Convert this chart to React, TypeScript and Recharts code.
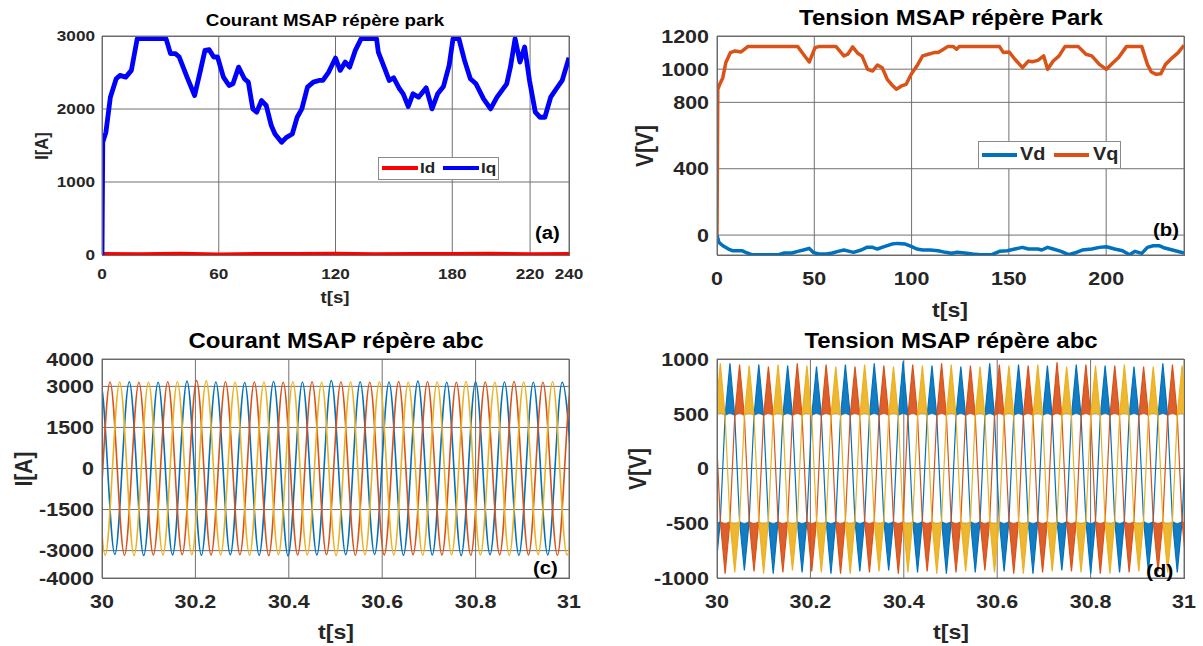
import React from "react";
import { ComposedChart, Line, Area, XAxis, YAxis, CartesianGrid } from "recharts";

const FONT = '"Liberation Sans", Arial, Helvetica, sans-serif';
const TICK_COLOR = "#262626";
const GRID = "#707070";
const SX = 1.13; // horizontal stretch of the exported figure's text

// ---------- Panel (a): Courant MSAP répère park ----------
const parkTicksA = [0, 60, 120, 180, 220, 240];
const currentTicksA = [0, 1000, 2000, 3000];
const iqPoints: number[][] = [
  [0, 0], [0.4, 1544], [2, 1680], [4.3, 2160], [7.3, 2414], [9.2, 2460], [12.2, 2437], [15.1, 2529],
  [18.1, 2964], [32.9, 2964], [35.2, 2758], [37.8, 2758], [39.7, 2712], [43.7, 2437], [47.6, 2185],
  [50.6, 2529], [52.9, 2803], [55.1, 2812], [57.4, 2712], [59.4, 2712], [62.4, 2437], [65.3, 2322],
  [67.3, 2345], [70.2, 2574], [73.2, 2414], [75.2, 2368], [77.5, 2002], [79.5, 1956], [82, 2116],
  [84.4, 2048], [87, 1773], [88.9, 1658], [92.3, 1544], [94.8, 1612], [97.8, 1658], [100.3, 1887],
  [102.7, 2002], [105.6, 2300], [108.6, 2368], [111.5, 2391], [113.5, 2391], [116.5, 2506], [120, 2698],
  [122.4, 2529], [125, 2643], [127.3, 2574], [130.2, 2803], [133.2, 2964], [141.1, 2964], [142, 2780],
  [145, 2574], [147.6, 2391], [149.9, 2428], [152.9, 2277], [154.8, 2208], [157.4, 2034], [159.8, 2208],
  [162.7, 2162], [166.6, 2290], [169.6, 2002], [172.5, 2208], [175.5, 2309], [178.4, 2597], [180.4, 2964],
  [183.4, 2964], [186.3, 2666], [189.3, 2414], [192.2, 2345], [196.1, 2139], [199.7, 2002], [203, 2162],
  [208, 2345], [209.9, 2574], [212.3, 2964], [214.8, 2643], [217.2, 2849], [219.7, 2391], [222.7, 1956],
  [225.1, 1887], [227.6, 1887], [230.6, 2162], [233.5, 2277], [236.5, 2391], [240, 2703],
];
const idPoints: number[][] = [
  [0, 0], [1, 15], [20, 10], [40, 18], [60, 8], [80, 15], [100, 12], [120, 18], [140, 9],
  [160, 14], [180, 12], [200, 17], [220, 10], [240, 14],
];

// ---------- Panel (b): Tension MSAP répère Park ----------
const parkTicksB = [0, 50, 100, 150, 200];
const voltTicksB = [0, 400, 800, 1000, 1200];
const vqPoints: number[][] = [
  [0, 0], [0.4, 879], [1.4, 909], [3, 949], [4.5, 1039], [6.9, 1100], [9.3, 1110], [12.4, 1104],
  [15.8, 1136], [41.5, 1136], [44.4, 1090], [47.4, 1043], [50.4, 1130], [52.3, 1136], [61.2, 1136],
  [65.2, 1080], [67.2, 1090], [69.7, 1134], [72.5, 1094], [74.5, 1080], [77.4, 999], [80, 989],
  [82.4, 1025], [84.9, 1009], [87.5, 939], [89.9, 905], [92.2, 879], [94.8, 899], [97.2, 909],
  [99.8, 969], [102.7, 1019], [105.7, 1080], [108.6, 1090], [111.6, 1100], [113.6, 1100], [115.6, 1114],
  [118.5, 1136], [121.5, 1136], [123.1, 1120], [124.4, 1136], [145.2, 1136], [147.2, 1100], [150.1, 1104],
  [153.1, 1060], [157, 1009], [160, 1049], [162, 1045], [164.9, 1053], [167.9, 1080], [169.9, 999],
  [172.8, 1049], [175.8, 1080], [178.8, 1136], [185.7, 1136], [189.6, 1090], [192.6, 1080], [196.5, 1029],
  [200.1, 999], [203.5, 1039], [206.4, 1070], [210.4, 1136], [218.3, 1136], [221.2, 1029], [223.2, 983],
  [225.8, 969], [228.1, 973], [230.5, 1029], [234.1, 1070], [237, 1100], [240, 1144],
];
const vdPoints: number[][] = [
  [0, 0], [1, -44], [3, -64], [5.9, -84], [7.9, -94], [12.8, -94], [14.8, -104], [17.8, -118],
  [31.6, -118], [34.6, -108], [38.5, -108], [41.5, -98], [44.4, -90], [47.4, -80], [49.4, -104],
  [52.3, -114], [56.3, -114], [59.3, -108], [62.2, -98], [65.2, -90], [68.1, -98], [70.1, -104],
  [74.1, -90], [77, -74], [80, -74], [82.4, -84], [85.9, -70], [89.9, -54], [92.8, -50], [96.8, -54],
  [99.8, -68], [102.7, -84], [105.7, -90], [109.6, -90], [113.6, -94], [117.5, -104], [120.5, -110],
  [123.5, -104], [127.4, -108], [131.4, -114], [135.3, -118], [141.2, -118], [145.2, -98], [149.1, -94],
  [153.1, -84], [157, -74], [160, -84], [164.9, -84], [166.9, -90], [169.9, -74], [172.8, -84],
  [176.8, -98], [180.7, -118], [183.7, -108], [187.7, -90], [192.6, -84], [196.5, -74], [200.1, -70],
  [204.4, -84], [208.4, -94], [212, -118], [214.8, -98], [218.3, -110], [221.2, -74], [224.2, -64],
  [227.2, -64], [230.1, -78], [234.1, -90], [240, -108],
];

// ---------- Panel (c): Courant MSAP répère abc (extrema: time, value) ----------
const abcTicks = [30, 30.2, 30.4, 30.6, 30.8, 31];
const currentTicksC = [-4000, -3000, -1500, 0, 1500, 3000, 4000];
const iaExtrema: number[][] = [
  [29.9657, -3150], [29.9966, 3160], [30.0275, -3140], [30.0584, 3170], [30.0893, -3180], [30.1202, 3150],
  [30.1511, -3160], [30.182, 3190], [30.2129, -3170], [30.2438, 3160], [30.2747, -3150], [30.3056, 3140],
  [30.3365, -3170], [30.3674, 3180], [30.3983, -3190], [30.4292, 3150], [30.4601, -3160], [30.491, 3210],
  [30.5219, -3150], [30.5528, 3170], [30.5837, -3140], [30.6146, 3160], [30.6455, -3170], [30.6764, 3190],
  [30.7073, -3160], [30.7382, 3150], [30.7691, -3180], [30.8, 3170], [30.8309, -3150], [30.8618, 3160],
  [30.8927, -3170], [30.9236, 3150], [30.9545, -3160], [30.9854, 3150], [31.0163, -3150],
];
const ibExtrema: number[][] = [
  [29.9554, 3150], [29.9863, -3150], [30.0172, 3160], [30.0481, -3170], [30.079, 3150], [30.1099, -3160],
  [30.1408, 3170], [30.1717, -3150], [30.2026, 3210], [30.2335, -3160], [30.2644, 3170], [30.2953, -3150],
  [30.3262, 3160], [30.3571, -3180], [30.388, 3150], [30.4189, -3160], [30.4498, 3170], [30.4807, -3150],
  [30.5116, 3160], [30.5425, -3170], [30.5734, 3150], [30.6043, -3160], [30.6352, 3180], [30.6661, -3150],
  [30.697, 3170], [30.7279, -3160], [30.7588, 3150], [30.7897, -3170], [30.8206, 3160], [30.8515, -3150],
  [30.8824, 3180], [30.9133, -3160], [30.9442, 3150], [30.9751, -3170], [31.006, 3160], [31.0369, -3150],
];
const icExtrema: number[][] = [
  [29.9451, -3150], [29.976, 3150], [30.0069, -3170], [30.0378, 3160], [30.0687, -3180], [30.0996, 3150],
  [30.1305, -3160], [30.1614, 3170], [30.1923, -3150], [30.2232, 3200], [30.2541, -3160], [30.285, 3150],
  [30.3159, -3170], [30.3468, 3160], [30.3777, -3150], [30.4086, 3170], [30.4395, -3160], [30.4704, 3150],
  [30.5013, -3180], [30.5322, 3160], [30.5631, -3150], [30.594, 3170], [30.6249, -3160], [30.6558, 3150],
  [30.6867, -3170], [30.7176, 3160], [30.7485, -3150], [30.7794, 3180], [30.8103, -3160], [30.8412, 3150],
  [30.8721, -3170], [30.903, 3160], [30.9339, -3150], [30.9648, 3170], [30.9957, -3160], [31.0266, 3150],
];

// ---------- Panel (d): Tension MSAP répère abc (extrema: time, value) ----------
const voltTicksD = [-1000, -500, 0, 500, 1000];
const vaExtrema: number[][] = [
  [29.9659, 930], [29.9968, -940], [30.0277, 960], [30.0586, -930], [30.0895, 950], [30.1204, -960],
  [30.1513, 940], [30.1822, -950], [30.2131, 930], [30.244, -960], [30.2749, 950], [30.3058, -940],
  [30.3367, 960], [30.3676, -930], [30.3985, 980], [30.4294, -950], [30.4603, 940], [30.4912, -960],
  [30.5221, 930], [30.553, -950], [30.5839, 960], [30.6148, -940], [30.6457, 950], [30.6766, -960],
  [30.7075, 940], [30.7384, -930], [30.7693, 950], [30.8002, -960], [30.8311, 940], [30.862, -950],
  [30.8929, 930], [30.9238, -940], [30.9547, 960], [30.9856, -950], [31.0165, 940],
];
const vbExtrema: number[][] = [
  [29.9556, -950], [29.9865, 940], [30.0174, -960], [30.0483, 950], [30.0792, -940], [30.1101, 930],
  [30.141, -950], [30.1719, 960], [30.2028, -940], [30.2337, 950], [30.2646, -960], [30.2955, 930],
  [30.3264, -950], [30.3573, 940], [30.3882, -960], [30.4191, 950], [30.45, -940], [30.4809, 960],
  [30.5118, -950], [30.5427, 940], [30.5736, -930], [30.6045, 950], [30.6354, -960], [30.6663, 940],
  [30.6972, -950], [30.7281, 970], [30.759, -940], [30.7899, 950], [30.8208, -960], [30.8517, 940],
  [30.8826, -950], [30.9135, 930], [30.9444, -940], [30.9753, 950], [31.0062, -960],
];
const vcExtrema: number[][] = [
  [29.9453, 950], [29.9762, -940], [30.0071, 960], [30.038, -950], [30.0689, 940], [30.0998, -960],
  [30.1307, 950], [30.1616, -930], [30.1925, 940], [30.2234, -950], [30.2543, 930], [30.2852, -960],
  [30.3161, 950], [30.347, -940], [30.3779, 930], [30.4088, -950], [30.4397, 940], [30.4706, -960],
  [30.5015, 950], [30.5324, -940], [30.5633, 930], [30.5942, -950], [30.6251, 940], [30.656, -960],
  [30.6869, 950], [30.7178, -940], [30.7487, 930], [30.7796, -950], [30.8105, 940], [30.8414, -960],
  [30.8723, 950], [30.9032, -940], [30.9341, 930], [30.965, -950], [30.9959, 940], [31.0268, -950],
];

// Shape of the PWM phase-voltage spike around each extremum
const SPIKE_HALF_WIDTH = 0.0103; // s
const SPIKE_EDGE = 480; // V where the spike band begins
const SPIKE_BASE = 505; // V lower edge of the noisy band at the spike centre

const toPts = (arr: number[][]) => arr.map(([t, v]) => ({ t, v }));
const spikeLine = (ext: number[][]) => {
  const out: { t: number; v: number }[] = [];
  ext.forEach(([t, a]) => {
    const s = Math.sign(a);
    out.push({ t: t - SPIKE_HALF_WIDTH, v: s * SPIKE_EDGE }, { t, v: a }, { t: t + SPIKE_HALF_WIDTH, v: s * SPIKE_EDGE });
  });
  return out;
};
const spikeBand = (ext: number[][]) => {
  const out: { t: number; r: number[] | null }[] = [];
  ext.forEach(([t, a]) => {
    const s = Math.sign(a);
    out.push(
      { t: t - SPIKE_HALF_WIDTH, r: [s * SPIKE_EDGE, s * SPIKE_EDGE] },
      { t, r: s > 0 ? [SPIKE_BASE, a] : [a, -SPIKE_BASE] },
      { t: t + SPIKE_HALF_WIDTH, r: [s * SPIKE_EDGE, s * SPIKE_EDGE] },
      { t: t + SPIKE_HALF_WIDTH + 0.0001, r: null }
    );
  });
  return out;
};

const BLUE = "#0072BD";
const ORANGE = "#D95319";
const YELLOW = "#EDB120";

type PlotRect = { x0: number; x1: number; y0: number; y1: number };

function makeTick(fontSize: number, vertical: "x" | "y") {
  return (p: any) => {
    const { x, y, payload, textAnchor } = p;
    return (
      <text
        transform={`translate(${x},${y}) scale(${SX},1)`}
        x={0}
        y={0}
        dy={vertical === "x" ? "0.71em" : "0.355em"}
        textAnchor={textAnchor}
        fill={TICK_COLOR}
        fontSize={fontSize}
        fontWeight={700}
        fontFamily={FONT}
      >
        {payload.value}
      </text>
    );
  };
}

function Panel(props: {
  left: number; top: number; width: number; height: number; plot: PlotRect;
  xDomain: number[]; xTicks: number[]; yDomain: number[]; yTicks: number[];
  tickSize: number; xTickMargin: number; yTickMargin: number; children: React.ReactNode;
}) {
  const { left, top, width, height, plot } = props;
  return (
    <>
      <div style={{ position: "absolute", left, top, width, height }}>
        <ComposedChart
          width={width}
          height={height}
          margin={{ top: plot.y0 - top, right: left + width - plot.x1, left: 0, bottom: 0 }}
        >
          <CartesianGrid stroke={GRID} strokeWidth={1} />
          <XAxis
            dataKey="t"
            type="number"
            domain={props.xDomain}
            ticks={props.xTicks}
            allowDataOverflow
            interval={0}
            height={top + height - plot.y1}
            tickSize={0}
            tickMargin={props.xTickMargin}
            axisLine={false}
            tickLine={false}
            tick={makeTick(props.tickSize, "x")}
          />
          <YAxis
            type="number"
            domain={props.yDomain}
            ticks={props.yTicks}
            allowDataOverflow
            interval={0}
            width={plot.x0 - left}
            tickSize={0}
            tickMargin={props.yTickMargin}
            axisLine={false}
            tickLine={false}
            tick={makeTick(props.tickSize, "y")}
          />
          {props.children}
        </ComposedChart>
      </div>
      <div
        style={{
          position: "absolute",
          left: plot.x0,
          top: plot.y0,
          width: plot.x1 - plot.x0 + 1,
          height: plot.y1 - plot.y0 + 1,
          border: "1px solid #6a6a6a",
          boxSizing: "border-box",
          pointerEvents: "none",
        }}
      />
    </>
  );
}

function Txt(props: { x: number; y: number; size: number; children: React.ReactNode; rotate?: boolean; color?: string; align?: "center" | "left" }) {
  const tx = props.align === "left" ? "0" : "-50%";
  const tf = props.rotate
    ? `translate(${tx}, -50%) rotate(-90deg) scale(1, ${SX})`
    : `translate(${tx}, -50%) scale(${SX}, 1)`;
  return (
    <div
      style={{
        position: "absolute",
        left: props.x,
        top: props.y,
        transform: tf,
        transformOrigin: props.align === "left" ? "left center" : "center center",
        fontSize: props.size,
        fontWeight: 700,
        fontFamily: FONT,
        color: props.color || "#000",
        whiteSpace: "nowrap",
        lineHeight: 1,
      }}
    >
      {props.children}
    </div>
  );
}

function Swatch(props: { x: number; y: number; w: number; color: string; thick: number }) {
  return (
    <div style={{ position: "absolute", left: props.x, top: props.y - props.thick / 2, width: props.w, height: props.thick, background: props.color }} />
  );
}

const PLOT_A = { x0: 102, x1: 569, y0: 36, y1: 255 };
const PLOT_B = { x0: 717, x1: 1184, y0: 36, y1: 255 };
const PLOT_C = { x0: 102, x1: 569, y0: 359, y1: 578 };
const PLOT_D = { x0: 717, x1: 1184, y0: 359, y1: 578 };

const T_SMALL = 15.2; // ticks, panel (a)
const T_BIG = 19; // ticks, panels (b)-(d)

export default function App() {
  const lineCommon = { dot: false, activeDot: false, isAnimationActive: false } as const;
  return (
    <div style={{ position: "absolute", left: 0, top: 0, width: 1203, height: 646, background: "#fff", overflow: "hidden", fontFamily: FONT }}>
      {/* (a) */}
      <Panel left={0} top={0} width={600} height={320} plot={PLOT_A} xDomain={[0, 240]} xTicks={parkTicksA}
        yDomain={[0, 3000]} yTicks={currentTicksA} tickSize={T_SMALL} xTickMargin={13} yTickMargin={7}>
        <Line data={toPts(idPoints)} dataKey="v" type="linear" stroke="#FF0000" strokeWidth={4} {...lineCommon} />
        <Line data={toPts(iqPoints)} dataKey="v" type="linear" stroke="#0000FF" strokeWidth={4.8} strokeLinejoin="round" {...lineCommon} />
      </Panel>
      <Txt x={325} y={21} size={16.6}>Courant MSAP répère park</Txt>
      <Txt x={335} y={298} size={16.6} color={TICK_COLOR}>t[s]</Txt>
      <Txt x={43} y={146} size={16.6} rotate color={TICK_COLOR}>I[A]</Txt>
      <div style={{ position: "absolute", left: 378, top: 157, width: 121, height: 23, background: "#fff", border: "1px solid #8a8a8a", boxSizing: "border-box" }} />
      <Swatch x={382} y={168} w={36} color="#FF0000" thick={4} />
      <Txt x={420} y={168} size={15.2} align="left" color={TICK_COLOR}>Id</Txt>
      <Swatch x={443} y={168} w={36} color="#0000FF" thick={4} />
      <Txt x={481} y={168} size={15.2} align="left" color={TICK_COLOR}>Iq</Txt>
      <Txt x={535} y={232.5} size={18} align="left">(a)</Txt>

      {/* (b) */}
      <Panel left={600} top={0} width={603} height={320} plot={PLOT_B} xDomain={[0, 240]} xTicks={parkTicksB}
        yDomain={[-120, 1200]} yTicks={voltTicksB} tickSize={T_BIG} xTickMargin={16} yTickMargin={8}>
        <Line data={toPts(vdPoints)} dataKey="v" type="linear" stroke={BLUE} strokeWidth={3.5} strokeLinejoin="round" {...lineCommon} />
        <Line data={toPts(vqPoints)} dataKey="v" type="linear" stroke={ORANGE} strokeWidth={3.5} strokeLinejoin="round" {...lineCommon} />
      </Panel>
      <Txt x={951} y={18} size={21.2}>Tension MSAP répère Park</Txt>
      <Txt x={950} y={310} size={20.5} color={TICK_COLOR}>t[s]</Txt>
      <Txt x={645} y={146} size={21} rotate color={TICK_COLOR}>V[V]</Txt>
      <div style={{ position: "absolute", left: 978, top: 141, width: 143, height: 28, background: "#fff", border: "1px solid #8a8a8a", boxSizing: "border-box" }} />
      <Swatch x={982} y={155} w={35} color={BLUE} thick={4} />
      <Txt x={1020} y={155} size={17.6} align="left" color={TICK_COLOR}>Vd</Txt>
      <Swatch x={1054} y={155} w={35} color={ORANGE} thick={4} />
      <Txt x={1093} y={155} size={17.6} align="left" color={TICK_COLOR}>Vq</Txt>
      <Txt x={1153} y={229.5} size={18} align="left">(b)</Txt>

      {/* (c) */}
      <Panel left={0} top={320} width={600} height={326} plot={PLOT_C} xDomain={[30, 31]} xTicks={abcTicks}
        yDomain={[-4000, 4000]} yTicks={currentTicksC} tickSize={T_BIG} xTickMargin={16} yTickMargin={8}>
        <Line data={toPts(iaExtrema)} dataKey="v" type="monotone" stroke={BLUE} strokeWidth={1.6} {...lineCommon} />
        <Line data={toPts(ibExtrema)} dataKey="v" type="monotone" stroke={ORANGE} strokeWidth={1.6} {...lineCommon} />
        <Line data={toPts(icExtrema)} dataKey="v" type="monotone" stroke={YELLOW} strokeWidth={1.6} {...lineCommon} />
      </Panel>
      <Txt x={335.5} y={341} size={21.2}>Courant MSAP répère abc</Txt>
      <Txt x={335.5} y={632} size={20.5} color={TICK_COLOR}>t[s]</Txt>
      <Txt x={24} y={469} size={21} rotate color={TICK_COLOR}>I[A]</Txt>
      <Txt x={533} y={568} size={18} align="left">(c)</Txt>

      {/* (d) */}
      <Panel left={600} top={320} width={603} height={326} plot={PLOT_D} xDomain={[30, 31]} xTicks={abcTicks}
        yDomain={[-1000, 1000]} yTicks={voltTicksD} tickSize={T_BIG} xTickMargin={16} yTickMargin={8}>
        <Area data={spikeBand(vaExtrema)} dataKey="r" type="linear" stroke="none" fill={BLUE} fillOpacity={0.92} isAnimationActive={false} activeDot={false} />
        <Line data={spikeLine(vaExtrema)} dataKey="v" type="linear" stroke={BLUE} strokeWidth={1.2} {...lineCommon} />
        <Area data={spikeBand(vbExtrema)} dataKey="r" type="linear" stroke="none" fill={ORANGE} fillOpacity={0.92} isAnimationActive={false} activeDot={false} />
        <Line data={spikeLine(vbExtrema)} dataKey="v" type="linear" stroke={ORANGE} strokeWidth={1.2} {...lineCommon} />
        <Area data={spikeBand(vcExtrema)} dataKey="r" type="linear" stroke="none" fill={YELLOW} fillOpacity={0.92} isAnimationActive={false} activeDot={false} />
        <Line data={spikeLine(vcExtrema)} dataKey="v" type="linear" stroke={YELLOW} strokeWidth={1.2} {...lineCommon} />
      </Panel>
      <Txt x={951} y={341} size={21.2}>Tension MSAP répère abc</Txt>
      <Txt x={950.5} y={632} size={20.5} color={TICK_COLOR}>t[s]</Txt>
      <Txt x={638} y={469} size={21} rotate color={TICK_COLOR}>V[V]</Txt>
      <Txt x={1146} y={570} size={19} align="left">(d)</Txt>
    </div>
  );
}
